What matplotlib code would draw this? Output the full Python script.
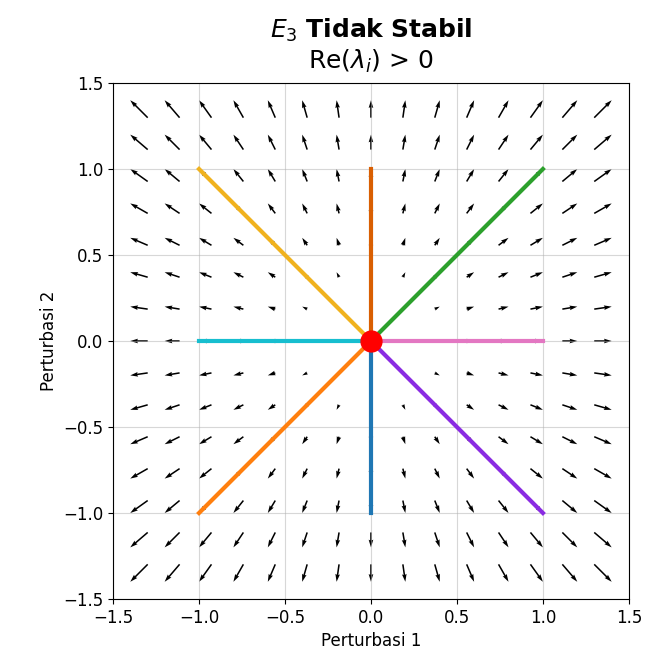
import numpy as np
import matplotlib
matplotlib.use("Agg")
import matplotlib.pyplot as plt

# grid for the direction field
grid_vals = [-1.4, -1.2, -1.0, -0.8, -0.6, -0.4, -0.2, 0.0, 0.2, 0.4, 0.6, 0.8, 1.0, 1.2, 1.4]

# initial perturbations (end points of trajectories) and their colours
start_x = [1.0, 1.0, 0.0, -1.0, -1.0, -1.0, 0.0, 1.0]
start_y = [0.0, 1.0, 1.0, 1.0, 0.0, -1.0, -1.0, -1.0]
colors = ["#e377c2", "#2ca02c", "#d95f02", "#f0b21e", "#17becf", "#ff7f0e", "#1f77b4", "#8a2be2"]

X, Y = np.meshgrid(grid_vals, grid_vals)
U = X
V = Y

fig = plt.figure(figsize=(6.46, 6.61), dpi=100)
ax = fig.add_axes([0.175, 0.0938, 0.7985, 0.7806])

ax.quiver(X, Y, U, V, angles="xy", scale_units="xy", scale=13.8,
          width=0.003, pivot="tip")

for x0, y0, c in zip(start_x, start_y, colors):
    ax.plot([0, x0], [0, y0], color=c, lw=3)

ax.plot(0, 0, "o", color="red", markersize=15)

ax.set_xlim(-1.5, 1.5)
ax.set_ylim(-1.5, 1.5)
ax.set_xticks([-1.5, -1.0, -0.5, 0.0, 0.5, 1.0, 1.5])
ax.set_yticks([-1.5, -1.0, -0.5, 0.0, 0.5, 1.0, 1.5])
ax.tick_params(labelsize=12)
ax.grid(True, alpha=0.5)
ax.set_xlabel("Perturbasi 1", fontsize=12)
ax.set_ylabel("Perturbasi 2", fontsize=12)
ax.set_title(r"$E_3$ $\bf{Tidak\ Stabil}$" + "\n" + r"Re($\lambda_i$) > 0",
             fontsize=18, pad=10)

fig.savefig("out.png", dpi=100)
